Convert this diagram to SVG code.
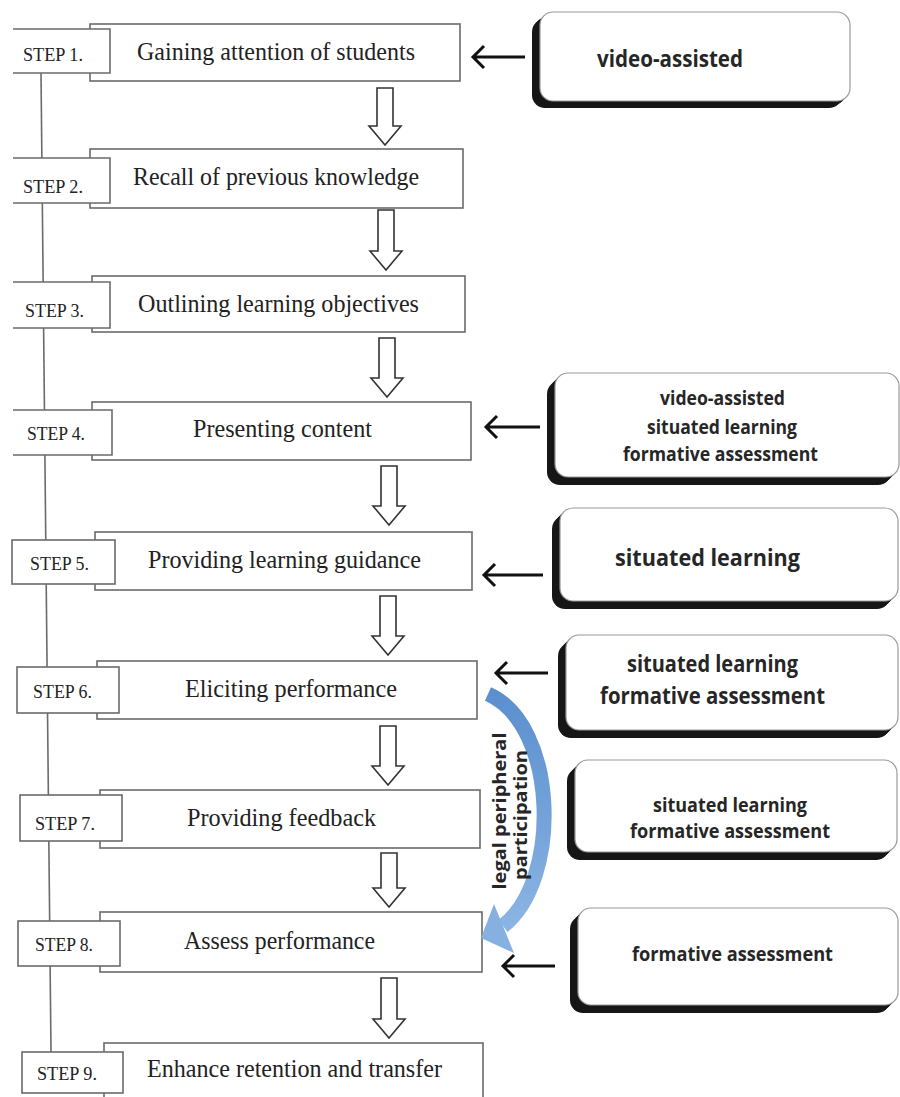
<svg xmlns="http://www.w3.org/2000/svg" xmlns:xlink="http://www.w3.org/1999/xlink" width="900" height="1097" viewBox="0 0 900 1097">
<style>
.main{fill:#fff;stroke:#6b6b6b;stroke-width:1.6}
.lab{fill:#fff;stroke:#6b6b6b;stroke-width:1.6}
.t{font-family:"Liberation Serif","Times New Roman",serif;font-size:26px;fill:#222}
.s{font-family:"Liberation Serif","Times New Roman",serif;font-size:19px;fill:#222}
.b{font-family:"Open Sans","Noto Sans",sans-serif;font-weight:700;fill:#262626}
.da{fill:#fff;stroke:#333;stroke-width:1.6;stroke-linejoin:miter}
.la{fill:none;stroke:#111;stroke-width:3}
.sh{fill:#161616}
.wb{fill:#fff;stroke:#9a9a9a;stroke-width:1.2}
.lpp{font-family:"Open Sans","Noto Sans",sans-serif;font-weight:700;font-size:17px;fill:#262626;text-anchor:middle}
</style>
<defs>
<linearGradient id="bg" x1="0" y1="0" x2="0" y2="1">
<stop offset="0" stop-color="#5b8fce"/>
<stop offset="1" stop-color="#8ab4e3"/>
</linearGradient>
<rect id="r1" x="540" y="12" width="310" height="89" rx="13"/>
<rect id="r4" x="555" y="373" width="344" height="104" rx="13"/>
<rect id="r5" x="560" y="508" width="338" height="93" rx="13"/>
<rect id="r6" x="566" y="635" width="332" height="95" rx="13"/>
<rect id="r7" x="575" y="760" width="322" height="92" rx="13"/>
<rect id="r8" x="578" y="908" width="320" height="97" rx="13"/>
</defs>

<!-- timeline spine -->
<g id="spine">
<line x1="41" y1="73" x2="51" y2="1052" stroke="#6b6b6b" stroke-width="1.6"/>
</g>

<g id="step1">
<rect class="main" x="90" y="24" width="370" height="57"/>
<path class="lab" d="M13 29H110V73H13"/>
<text class="s" x="23" y="61" textLength="60" lengthAdjust="spacingAndGlyphs">STEP 1.</text>
<text class="t" x="137" y="60" textLength="278" lengthAdjust="spacingAndGlyphs">Gaining attention of students</text>
</g>
<g id="step2">
<rect class="main" x="90" y="149" width="373" height="59"/>
<path class="lab" d="M13 158H110V203H13"/>
<text class="s" x="23" y="193" textLength="60" lengthAdjust="spacingAndGlyphs">STEP 2.</text>
<text class="t" x="133" y="185" textLength="286" lengthAdjust="spacingAndGlyphs">Recall of previous knowledge</text>
</g>
<g id="step3">
<rect class="main" x="92" y="276" width="373" height="56"/>
<path class="lab" d="M13 282H110V328H13"/>
<text class="s" x="25" y="317" textLength="59" lengthAdjust="spacingAndGlyphs">STEP 3.</text>
<text class="t" x="138" y="312" textLength="281" lengthAdjust="spacingAndGlyphs">Outlining learning objectives</text>
</g>
<g id="step4">
<rect class="main" x="92" y="402" width="379" height="58"/>
<path class="lab" d="M13 410H112V455H13"/>
<text class="s" x="27" y="440" textLength="58" lengthAdjust="spacingAndGlyphs">STEP 4.</text>
<text class="t" x="193" y="437" textLength="179" lengthAdjust="spacingAndGlyphs">Presenting content</text>
</g>
<g id="step5">
<rect class="main" x="95" y="532" width="377" height="58"/>
<rect class="lab" x="12" y="540" width="103" height="44"/>
<text class="s" x="30" y="570" textLength="59" lengthAdjust="spacingAndGlyphs">STEP 5.</text>
<text class="t" x="148" y="568" textLength="273" lengthAdjust="spacingAndGlyphs">Providing learning guidance</text>
</g>
<g id="step6">
<rect class="main" x="97" y="661" width="380" height="58"/>
<rect class="lab" x="17" y="667" width="102" height="46"/>
<text class="s" x="33" y="698" textLength="59" lengthAdjust="spacingAndGlyphs">STEP 6.</text>
<text class="t" x="185" y="697" textLength="212" lengthAdjust="spacingAndGlyphs">Eliciting performance</text>
</g>
<g id="step7">
<rect class="main" x="100" y="790" width="380" height="58"/>
<rect class="lab" x="20" y="795" width="102" height="46"/>
<text class="s" x="35" y="830" textLength="60" lengthAdjust="spacingAndGlyphs">STEP 7.</text>
<text class="t" x="187" y="826" textLength="189" lengthAdjust="spacingAndGlyphs">Providing feedback</text>
</g>
<g id="step8">
<rect class="main" x="100" y="912" width="382" height="60"/>
<rect class="lab" x="18" y="921" width="102" height="45"/>
<text class="s" x="35" y="951" textLength="58" lengthAdjust="spacingAndGlyphs">STEP 8.</text>
<text class="t" x="184" y="949" textLength="191" lengthAdjust="spacingAndGlyphs">Assess performance</text>
</g>
<g id="step9">
<rect class="main" x="104" y="1043" width="379" height="60"/>
<rect class="lab" x="22" y="1052" width="101" height="41"/>
<text class="s" x="37" y="1080" textLength="60" lengthAdjust="spacingAndGlyphs">STEP 9.</text>
<text class="t" x="147" y="1077" textLength="295" lengthAdjust="spacingAndGlyphs">Enhance retention and transfer</text>
</g>

<!-- strategy boxes -->
<g id="box1">
<use href="#r1" class="sh" x="-2" y="2"/><use href="#r1" class="sh" x="-4" y="4"/><use href="#r1" class="sh" x="-6" y="5"/><use href="#r1" class="sh" x="-8" y="7"/>
<use href="#r1" class="wb"/>
<text class="b" x="597" y="67" font-size="24" textLength="146" lengthAdjust="spacingAndGlyphs">video-assisted</text>
</g>
<g id="box4">
<use href="#r4" class="sh" x="-2" y="2"/><use href="#r4" class="sh" x="-4" y="4"/><use href="#r4" class="sh" x="-6" y="6"/><use href="#r4" class="sh" x="-8" y="8"/>
<use href="#r4" class="wb"/>
<text class="b" x="660" y="405" font-size="19" textLength="125" lengthAdjust="spacingAndGlyphs">video-assisted</text>
<text class="b" x="647" y="434" font-size="19" textLength="150" lengthAdjust="spacingAndGlyphs">situated learning</text>
<text class="b" x="623" y="461" font-size="19" textLength="195" lengthAdjust="spacingAndGlyphs">formative assessment</text>
</g>
<g id="box5">
<use href="#r5" class="sh" x="-2" y="2"/><use href="#r5" class="sh" x="-4" y="4"/><use href="#r5" class="sh" x="-6" y="6"/><use href="#r5" class="sh" x="-8" y="8"/>
<use href="#r5" class="wb"/>
<text class="b" x="615" y="566" font-size="23" textLength="185" lengthAdjust="spacingAndGlyphs">situated learning</text>
</g>
<g id="box6">
<use href="#r6" class="sh" x="-2" y="2"/><use href="#r6" class="sh" x="-4" y="4"/><use href="#r6" class="sh" x="-6" y="6"/><use href="#r6" class="sh" x="-8" y="8"/>
<use href="#r6" class="wb"/>
<text class="b" x="627" y="672" font-size="23" textLength="171" lengthAdjust="spacingAndGlyphs">situated learning</text>
<text class="b" x="600" y="704" font-size="23" textLength="225" lengthAdjust="spacingAndGlyphs">formative assessment</text>
</g>
<g id="box7">
<use href="#r7" class="sh" x="-2" y="2"/><use href="#r7" class="sh" x="-4" y="4"/><use href="#r7" class="sh" x="-6" y="6"/><use href="#r7" class="sh" x="-8" y="8"/>
<use href="#r7" class="wb"/>
<text class="b" x="653" y="812" font-size="20" textLength="154" lengthAdjust="spacingAndGlyphs">situated learning</text>
<text class="b" x="630" y="838" font-size="20" textLength="200" lengthAdjust="spacingAndGlyphs">formative assessment</text>
</g>
<g id="box8">
<use href="#r8" class="sh" x="-2" y="2"/><use href="#r8" class="sh" x="-4" y="4"/><use href="#r8" class="sh" x="-6" y="6"/><use href="#r8" class="sh" x="-8" y="8"/>
<use href="#r8" class="wb"/>
<text class="b" x="632" y="961" font-size="20" textLength="201" lengthAdjust="spacingAndGlyphs">formative assessment</text>
</g>

<g id="connectors">
<path class="da" d="M377 88H393V126H401L385 145L369 126H377Z"/>
<path class="da" d="M378 210H394V251H402L386 270L370 251H378Z"/>
<path class="da" d="M379 338H395V378H403L387 397L371 378H379Z"/>
<path class="da" d="M381 466H397V506H405L389 525L373 506H381Z"/>
<path class="da" d="M380 596H396V636H404L388 655L372 636H380Z"/>
<path class="da" d="M380 726H396V766H404L388 785L372 766H380Z"/>
<path class="da" d="M381 853H397V888H405L389 907L373 888H381Z"/>
<path class="da" d="M381 978H397V1019H405L389 1038L373 1019H381Z"/>
<path class="la" d="M525 57H473M484 46L473 57L484 68"/>
<path class="la" d="M540 427H486M497 416L486 427L497 438"/>
<path class="la" d="M543 575H484M495 564L484 575L495 586"/>
<path class="la" d="M548 673H496M507 662L496 673L507 684"/>
<path class="la" d="M555 966H503M514 955L503 966L514 977"/>
<path d="M488 694C558 725 562 880 503 926" fill="none" stroke="url(#bg)" stroke-width="15"/>
<polygon points="481,938 494,904 514,953" fill="#86b0e0"/>
<text class="lpp" transform="translate(506 811) rotate(-90)" textLength="157" lengthAdjust="spacingAndGlyphs">legal peripheral</text>
<text class="lpp" transform="translate(527 815) rotate(-90)" textLength="130" lengthAdjust="spacingAndGlyphs">participation</text>
</g>
</svg>
